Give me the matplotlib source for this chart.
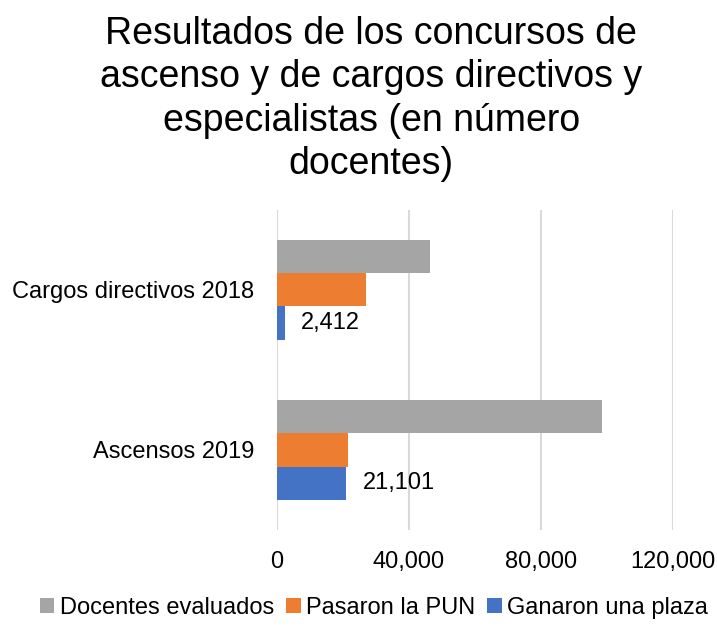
import matplotlib.pyplot as plt
import numpy as np

plt.rcParams['font.family'] = ['Liberation Sans', 'DejaVu Sans']

categories = ["Ascensos 2019", "Cargos directivos 2018"]
series_names = ["Docentes evaluados", "Pasaron la PUN", "Ganaron una plaza"]
docentes_evaluados = [98300, 46400]
pasaron_pun = [21600, 27100]
ganaron_plaza = [21101, 2412]
colors = ["#A5A5A5", "#ED7D31", "#4472C4"]
title = "Resultados de los concursos de\nascenso y de cargos directivos y\nespecialistas (en número\ndocentes)"

fig = plt.figure(figsize=(7.17, 6.28), dpi=100)
ax = fig.add_axes([0.386, 0.156, 0.553, 0.51])

y = np.arange(len(categories))
h = 0.208
offsets = [h, 0, -h]
values = [docentes_evaluados, pasaron_pun, ganaron_plaza]
bars = []
for vals, off, col, name in zip(values, offsets, colors, series_names):
    b = ax.barh(y + off, vals, height=h, color=col, label=name, zorder=2)
    bars.append(b)

# data labels only on the last series
for rect, v in zip(bars[2], ganaron_plaza):
    ax.annotate(f"{v:,}", (rect.get_width(), rect.get_y() + rect.get_height() / 2),
                xytext=(11.5, 0), textcoords='offset points', va='center', ha='left',
                fontsize=17, color='black')

ax.set_xlim(0, 120000)
ax.set_ylim(-0.5, 1.5)
ax.set_xticks([0, 40000, 80000, 120000])
ax.set_xticklabels(["0", "40,000", "80,000", "120,000"])
ax.set_yticks(y)
ax.set_yticklabels(categories)
ax.tick_params(axis='both', length=0, labelsize=17)
ax.tick_params(axis='y', pad=16)
ax.tick_params(axis='x', pad=15)
ax.grid(axis='x', color='#D9D9D9', linewidth=1.5, zorder=0)
for s in ax.spines.values():
    s.set_visible(False)

fig.text(0.518, 0.975, title, ha='center', va='top', fontsize=27, linespacing=1.265)

fig.legend(handles=bars, labels=series_names, loc='center', bbox_to_anchor=(0.522, 0.032),
           ncol=3, frameon=False, fontsize=17, handlelength=0.6, handleheight=0.6,
           handletextpad=0.25, columnspacing=0.5, borderpad=0)

fig.savefig("out.png", dpi=100)
